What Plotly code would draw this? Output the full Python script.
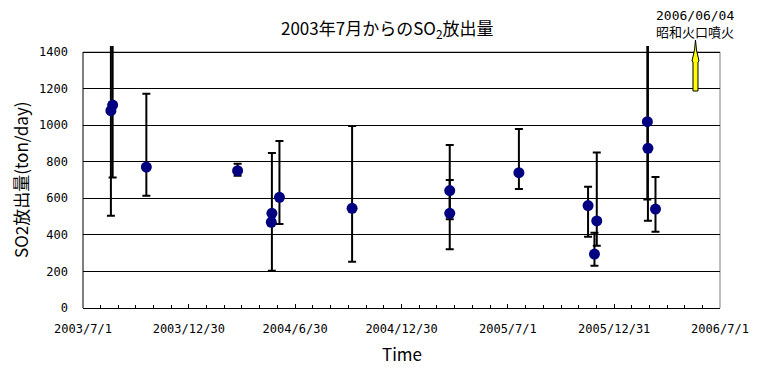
import plotly.graph_objects as go
import pandas as pd

# ---- data ----
dates = ["2003-08-21", "2003-08-18", "2003-10-18", "2004-03-23", "2004-05-21",
         "2004-05-20", "2004-06-03", "2004-10-06", "2005-03-23", "2005-03-23",
         "2005-07-20", "2005-11-16", "2005-12-01", "2005-11-27", "2006-02-26",
         "2006-02-27", "2006-03-12"]
so2 = [1110, 1079, 771, 751, 518, 469, 605, 545, 642, 518, 740, 560, 476, 295,
       1019, 873, 541]
err_hi = [1500, 1500, 1172, 789, 848, 469, 913, 995, 891, 700, 979, 663, 850,
          412, 1500, 1500, 716]
err_lo = [713, 505, 614, 723, 204, 469, 459, 253, 485, 321, 651, 390, 341, 231,
          594, 477, 417]

major_ticks = ["2003-07-01", "2003-12-30", "2004-06-30", "2004-12-30",
               "2005-07-01", "2005-12-31", "2006-07-01"]
major_labels = ["2003/7/1", "2003/12/30", "2004/6/30", "2004/12/30",
                "2005/7/1", "2005/12/31", "2006/7/1"]
y_ticks = [0, 200, 400, 600, 800, 1000, 1200, 1400]

event_text = "2006/06/04<br>昭和火口噴火"
title_text = "2003年7月からのSO<sub>2</sub>放出量"
ytitle_text = "SO2放出量(ton/day)"
xtitle_text = "Time"

# ---- geometry (page body has an 8px margin) ----
OFF = 8
W, H = 774 - OFF, 373 - OFF
L, R, T, B = 83 - OFF, 720 - OFF, 46 - OFF, 308 - OFF
pw, ph = R - L, B - T
ymax = 1400 * ph / (B - (52 - OFF))

def px(x):
    return (x - OFF - L) / pw

def py(y):
    return (B - (y - OFF)) / ph

# minor ticks: 5 between each pair of majors
minor_vals = []
mt = pd.to_datetime(major_ticks)
for a, b in zip(mt[:-1], mt[1:]):
    for k in range(1, 6):
        minor_vals.append((a + (b - a) * k / 6).strftime("%Y-%m-%d %H:%M"))

plus = [h - v for h, v in zip(err_hi, so2)]
minus = [v - l for v, l in zip(so2, err_lo)]

fig = go.Figure()
fig.add_trace(go.Scatter(
    x=dates, y=so2, mode="markers",
    marker=dict(color="#000080", size=11, line=dict(width=0)),
    error_y=dict(type="data", symmetric=False, array=plus, arrayminus=minus,
                 color="black", thickness=2, width=4),
    showlegend=False,
))

mono = "DejaVu Sans Mono, Noto Sans CJK JP"
cjk = "Noto Sans CJK JP, DejaVu Sans"

fig.update_layout(
    width=W, height=H,
    margin=dict(l=L, r=W - R, t=T, b=H - B, pad=0),
    paper_bgcolor="white", plot_bgcolor="white",
    font=dict(family=mono, size=12, color="black"),
    xaxis=dict(
        type="date", range=[major_ticks[0], major_ticks[-1]],
        tickmode="array", tickvals=major_ticks, ticktext=major_labels,
        ticks="inside", ticklen=4, tickwidth=1, tickcolor="black",
        showline=True, linecolor="black", linewidth=1,
        showgrid=False, zeroline=False, automargin=False,
        ticklabelstandoff=10,
        tickfont=dict(family=mono, size=12, color="black"),
        minor=dict(tickmode="array", tickvals=minor_vals, ticks="inside",
                   ticklen=3, tickwidth=1, tickcolor="black", showgrid=False),
    ),
    yaxis=dict(
        range=[0, ymax], tickmode="array", tickvals=y_ticks,
        ticks="inside", ticklen=5, tickwidth=1, tickcolor="black",
        showgrid=True, gridcolor="black", gridwidth=1,
        showline=False, zeroline=False, automargin=False,
        ticklabelstandoff=14,
        tickfont=dict(family=mono, size=12, color="black"),
    ),
)

# plot-area border (left black, top/right grey)
fig.add_shape(type="line", xref="paper", yref="y", x0=0, x1=0, y0=0, y1=1400,
              line=dict(color="black", width=1), layer="between")
fig.add_shape(type="line", xref="paper", yref="y", x0=0, x1=1, y0=1400, y1=1400,
              line=dict(color="#808080", width=1), layer="between")
fig.add_shape(type="line", xref="paper", yref="y", x0=1, x1=1, y0=0, y1=1400,
              line=dict(color="#808080", width=1), layer="between")

# yellow block arrow
arrow_pts = [(693, 91), (693, 62), (692, 61), (694.5, 50), (695.5, 40),
             (696.5, 50), (699, 61), (698, 62), (698, 91)]
path = "M " + " L ".join(f"{px(x):.5f},{py(y):.5f}" for x, y in arrow_pts) + " Z"
fig.add_shape(type="path", xref="paper", yref="paper", path=path,
              fillcolor="#FFFF00", line=dict(color="black", width=1),
              layer="above")

# texts
fig.add_annotation(text=title_text, xref="paper", yref="paper",
                   x=px(387), y=py(29), xanchor="center", yanchor="middle",
                   showarrow=False, font=dict(family=cjk, size=17, color="black"))
fig.add_annotation(text=ytitle_text, xref="paper", yref="paper",
                   x=px(20), y=py(180), xanchor="center", yanchor="middle",
                   textangle=-90, showarrow=False,
                   font=dict(family=cjk, size=17, color="black"))
fig.add_annotation(text=xtitle_text, xref="paper", yref="paper",
                   x=px(401.5), y=py(353), xanchor="center", yanchor="middle",
                   showarrow=False, font=dict(family=cjk, size=17, color="black"))
fig.add_annotation(text=event_text, xref="paper", yref="paper",
                   x=px(654), y=py(23.5), xanchor="left", yanchor="middle",
                   align="left", showarrow=False,
                   font=dict(family=mono, size=13, color="black"))

fig.write_html("out.html")
